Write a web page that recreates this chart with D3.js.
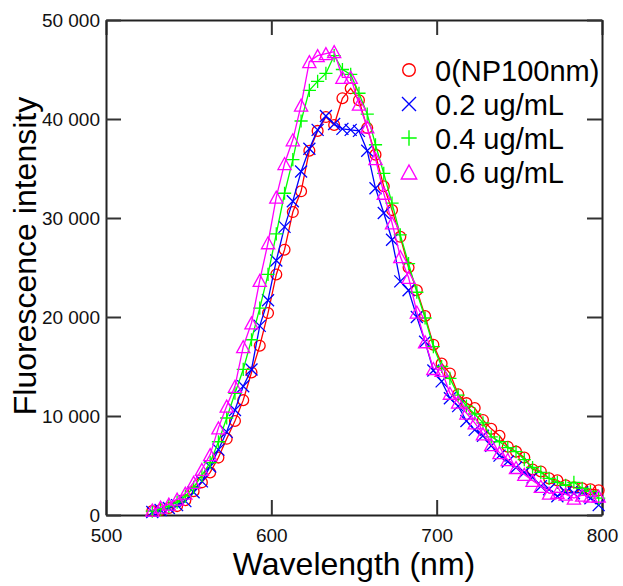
<!DOCTYPE html>
<html>
<head>
<meta charset="utf-8">
<script src="https://cdn.jsdelivr.net/npm/d3@7"></script>
<style>
  html, body { margin: 0; padding: 0; background: #fff; }
  svg { display: block; font-family: "Liberation Sans", Arial, sans-serif; }
</style>
</head>
<body>
<svg id="chart" width="623" height="586"></svg>
<script>
// wavelengths (nm), one reading every 5 nm
const wavelengths = d3.range(528, 799, 5);

const np100 = [400, 500, 700, 900, 1500, 2400, 3300, 4300, 5800, 7700,
  9500, 11600, 14400, 17100, 20400, 24300, 26800, 30600, 32700, 36800,
  38800, 40200, 39400, 42100, 43100, 41900, 39100, 36400, 33200, 30800,
  28100, 25000, 22700, 20100, 17200, 15300, 14300, 12200, 11300, 10800,
  9600, 8700, 8000, 6900, 6400, 5800, 4600, 4400, 3700, 3500,
  3000, 2800, 2700, 2600, 2500];

const c02 = [300, 500, 700, 1000, 1400, 2300, 3400, 4900, 6600, 8400,
  10600, 13000, 14700, 19100, 21700, 25700, 29100, 31700, 34700, 37000,
  38900, 40300, 39500, 39000, 38900, 38800, 36800, 33000, 30500, 27800,
  23600, 22700, 20000, 17500, 14600, 13500, 11800, 11000, 9500, 8600,
  8000, 7000, 6000, 5400, 4800, 4300, 3800, 2900, 2600, 1900,
  2300, 2200, 2300, 1700, 1000];

const c04 = [400, 600, 900, 1300, 1900, 2800, 4000, 5300, 7400, 9800,
  12300, 14700, 17700, 20900, 24300, 28400, 32500, 35900, 39800, 42900,
  43800, 44600, 46400, 45000, 44500, 42600, 40500, 37400, 34500, 31500,
  28300, 25400, 22500, 19900, 17000, 15000, 13800, 12100, 11000, 10200,
  9300, 7900, 7400, 6800, 6400, 5600, 4800, 4300, 3700, 3300,
  3000, 3300, 2700, 2400, 1700];

const c06 = [500, 800, 1100, 1600, 2200, 3300, 4600, 6100, 8800, 11000,
  13000, 17000, 19400, 23700, 27500, 32100, 35500, 37900, 41400, 45800,
  46400, 46600, 46800, 44200, 44200, 41500, 39200, 36000, 32500, 29500,
  26100, 24000, 20500, 17500, 14800, 14600, 12300, 11400, 10300, 9300,
  8200, 7100, 6300, 5600, 4800, 4100, 3500, 2900, 2200, 2300,
  2100, 1700, 2000, 1900, 1900];

const seriesNames = ["0(NP100nm)", "0.2 ug/mL", "0.4 ug/mL", "0.6 ug/mL"];
const seriesColors = ["#ff0000", "#0000ff", "#00ff00", "#ff00ff"];
const seriesShapes = ["circle", "cross", "plus", "triangle"];
const seriesValues = [np100, c02, c04, c06];

const xTicks = [500, 600, 700, 800];
const yTicks = [0, 10000, 20000, 30000, 40000, 50000];

const svg = d3.select("#chart");
const plotLeft = 106, plotRight = 602, plotTop = 20, plotBottom = 515;

const x = d3.scaleLinear().domain([500, 800]).range([plotLeft, plotRight]);
const y = d3.scaleLinear().domain([0, 50000]).range([plotBottom, plotTop]);

const fmt = d3.formatLocale({ decimal: ".", thousands: " ", grouping: [3], currency: ["", ""] }).format(",d");

// marker path for a given shape, centred on 0,0
function markerPath(shape, s) {
  if (shape === "circle") {
    const r = s * 0.45;
    return `M${-r},0A${r},${r} 0 1,0 ${r},0A${r},${r} 0 1,0 ${-r},0Z`;
  }
  if (shape === "cross") {
    const h = s * 0.5;
    return `M${-h},${-h}L${h},${h}M${-h},${h}L${h},${-h}`;
  }
  if (shape === "plus") {
    const h = s * 0.55;
    return `M${-h},0L${h},0M0,${-h}L0,${h}`;
  }
  const w = s * 0.55, hh = s * 0.5;
  return `M0,${-hh}L${w},${hh}L${-w},${hh}Z`;
}

// frame axes
const axisStyle = g => {
  g.select(".domain").attr("stroke", "#222").attr("stroke-width", 2);
  g.selectAll(".tick line").attr("stroke", "#333").attr("stroke-width", 2);
  g.selectAll(".tick text").attr("fill", "#111").attr("font-size", 19)
    .attr("font-family", "Liberation Sans, Arial, sans-serif");
};

svg.append("g").attr("transform", `translate(0,${plotBottom})`)
  .call(d3.axisBottom(x).tickValues(xTicks).tickSizeInner(-15).tickSizeOuter(0).tickPadding(14).tickFormat(d3.format("d")))
  .call(axisStyle);
svg.append("g").attr("transform", `translate(0,${plotTop})`)
  .call(d3.axisTop(x).tickValues(xTicks).tickSizeInner(-15).tickSizeOuter(0).tickFormat(""))
  .call(axisStyle);
svg.append("g").attr("transform", `translate(${plotLeft},0)`)
  .call(d3.axisLeft(y).tickValues(yTicks).tickSizeInner(-15).tickSizeOuter(0).tickPadding(6).tickFormat(fmt))
  .call(axisStyle);
svg.append("g").attr("transform", `translate(${plotRight},0)`)
  .call(d3.axisRight(y).tickValues(yTicks).tickSizeInner(-15).tickSizeOuter(0).tickFormat(""))
  .call(axisStyle);

// series
const line = d3.line().x(d => x(d[0])).y(d => y(d[1]));

seriesValues.forEach((vals, i) => {
  const pts = wavelengths.map((w, j) => [w, vals[j]]);
  const g = svg.append("g");
  g.append("path")
    .attr("d", line(pts))
    .attr("fill", "none")
    .attr("stroke", seriesColors[i])
    .attr("stroke-width", 1.3);
  g.selectAll("path.mk")
    .data(pts)
    .join("path")
    .attr("class", "mk")
    .attr("transform", d => `translate(${x(d[0])},${y(d[1])})`)
    .attr("d", markerPath(seriesShapes[i], 12))
    .attr("fill", "none")
    .attr("stroke", seriesColors[i])
    .attr("stroke-width", 1.3);
});

// legend
const legend = svg.append("g").attr("transform", "translate(409,70)");
seriesNames.forEach((name, i) => {
  const row = legend.append("g").attr("transform", `translate(0,${i * 34})`);
  row.append("path")
    .attr("d", markerPath(seriesShapes[i], 14))
    .attr("fill", "none")
    .attr("stroke", seriesColors[i])
    .attr("stroke-width", 1.4);
  row.append("text")
    .attr("x", 26)
    .attr("y", 10.5)
    .attr("font-size", 29)
    .attr("fill", "#000")
    .text(name);
});

// axis titles
svg.append("text")
  .attr("x", (plotLeft + plotRight) / 2)
  .attr("y", 575)
  .attr("text-anchor", "middle")
  .attr("font-size", 32)
  .attr("fill", "#000")
  .text("Wavelength (nm)");

svg.append("text")
  .attr("transform", "translate(36,256) rotate(-90)")
  .attr("text-anchor", "middle")
  .attr("font-size", 32)
  .attr("fill", "#000")
  .text("Fluorescence intensity");
</script>
</body>
</html>
